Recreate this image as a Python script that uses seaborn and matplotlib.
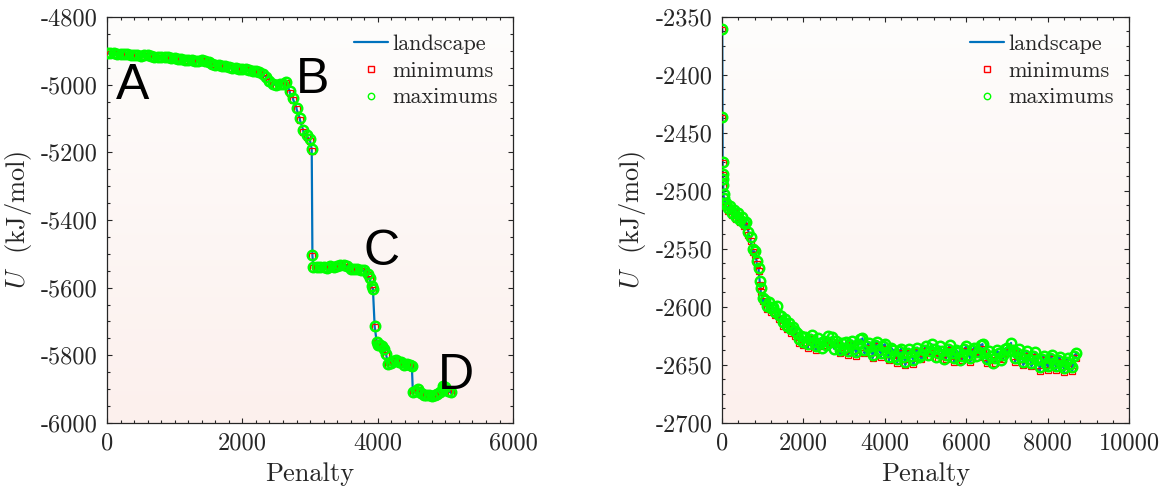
import numpy as np
import matplotlib
matplotlib.use("Agg")
import matplotlib.pyplot as plt
from matplotlib.ticker import MultipleLocator
import seaborn as sns

# ---- Run 1: penalty landscape with four plateaus (A-D) ----
run1_x = [0, 50, 100, 150, 200, 250, 300, 350, 400, 450, 500, 550, 600, 650, 700, 750,
          800, 850, 900, 950, 1000, 1050, 1100, 1150, 1200, 1250, 1300, 1350, 1400, 1450,
          1500, 1550, 1600, 1650, 1700, 1750, 1800, 1850, 1900, 1950, 2000, 2050, 2100,
          2150, 2200, 2250, 2300, 2350, 2400, 2450, 2500, 2550, 2600, 2650, 2700, 2750,
          2800, 2850, 2900, 2950, 3000, 3025,
          3035, 3050, 3100, 3150, 3200, 3250, 3300, 3350, 3400, 3450, 3500, 3550, 3600,
          3650, 3700, 3750, 3800, 3850, 3880, 3910, 3930,
          3955, 3985, 4010, 4040, 4070, 4100, 4125, 4150, 4190, 4230, 4270, 4310, 4350,
          4390, 4430, 4470, 4505,
          4520, 4560, 4600, 4640, 4680, 4720, 4760, 4800, 4840, 4880, 4920, 4960, 5000,
          5040, 5080]
run1_max = [-4906, -4907, -4907, -4909, -4909, -4910, -4908, -4911, -4913, -4912, -4914,
            -4913, -4912, -4915, -4917, -4918, -4917, -4919, -4918, -4920, -4922, -4924,
            -4923, -4926, -4928, -4927, -4929, -4931, -4928, -4930, -4934, -4938, -4941,
            -4943, -4946, -4945, -4948, -4951, -4950, -4953, -4955, -4954, -4958, -4960,
            -4961, -4963, -4968, -4976, -4988, -4997, -5000, -4999, -4997, -4992, -5020,
            -5040, -5068, -5100, -5135, -5150, -5162, -5190,
            -5503, -5538, -5540, -5538, -5540, -5541, -5537, -5539, -5535, -5534, -5532,
            -5536, -5544, -5546, -5545, -5547, -5549, -5560, -5572, -5595, -5603,
            -5712, -5760, -5770, -5768, -5772, -5782, -5795, -5825, -5824, -5818, -5815,
            -5819, -5821, -5830, -5826, -5828, -5831,
            -5908, -5904, -5900, -5910, -5916, -5918, -5917, -5920, -5918, -5915, -5908,
            -5890, -5895, -5905, -5908]
run1_min = [-4908, -4910, -4909, -4911, -4912, -4912, -4911, -4913, -4915, -4915, -4916,
            -4916, -4914, -4917, -4920, -4920, -4920, -4921, -4921, -4922, -4925, -4926,
            -4926, -4928, -4931, -4929, -4932, -4933, -4931, -4932, -4937, -4940, -4944,
            -4945, -4949, -4947, -4951, -4953, -4953, -4955, -4958, -4956, -4961, -4962,
            -4964, -4965, -4971, -4979, -4991, -5000, -5003, -5001, -5000, -4995, -5024,
            -5044, -5072, -5104, -5139, -5154, -5166, -5196,
            -5505, -5541, -5542, -5541, -5542, -5544, -5539, -5542, -5537, -5537, -5534,
            -5539, -5546, -5549, -5547, -5550, -5551, -5563, -5575, -5599, -5607,
            -5715, -5764, -5773, -5771, -5775, -5785, -5798, -5828, -5827, -5821, -5818,
            -5822, -5824, -5833, -5829, -5831, -5834,
            -5911, -5907, -5903, -5913, -5919, -5921, -5920, -5923, -5921, -5918, -5911,
            -5893, -5898, -5908, -5911]

# ---- Run 2: relaxation from a high-energy start ----
run2_max_x = [5, 10, 15, 20, 25, 30, 40, 60, 80, 100, 150, 200, 250, 300, 350, 400, 450,
              500, 550, 600, 650, 700, 750, 800, 850, 900, 925, 950, 1000,
              1050, 1100, 1150, 1200, 1250, 1300, 1350, 1400, 1450, 1500, 1550, 1600,
              1650, 1700, 1750, 1800, 1850, 1900, 1950, 2000,
              2050, 2100, 2150, 2200, 2250, 2300, 2350, 2400, 2450, 2500, 2550, 2600,
              2650, 2700, 2750, 2800, 2850, 2900, 2950, 3000,
              3050, 3100, 3150, 3200, 3250, 3300, 3350, 3400, 3450, 3500, 3550, 3600,
              3650, 3700, 3750, 3800, 3850, 3900, 3950, 4000,
              4050, 4100, 4150, 4200, 4250, 4300, 4350, 4400, 4450, 4500, 4550, 4600,
              4650, 4700, 4750, 4800, 4850, 4900, 4950, 5000,
              5050, 5100, 5150, 5200, 5250, 5300, 5350, 5400, 5450, 5500, 5550, 5600,
              5650, 5700, 5750, 5800, 5850, 5900, 5950, 6000,
              6050, 6100, 6150, 6200, 6250, 6300, 6350, 6400, 6450, 6500, 6550, 6600,
              6650, 6700, 6750, 6800, 6850, 6900, 6950, 7000,
              7050, 7100, 7150, 7200, 7250, 7300, 7350, 7400, 7450, 7500, 7550, 7600,
              7650, 7700, 7750, 7800, 7850, 7900, 7950, 8000,
              8050, 8100, 8150, 8200, 8250, 8300, 8350, 8400, 8450, 8500, 8550, 8600,
              8650, 8700]
run2_max_y = [-2360, -2436, -2475, -2485, -2490, -2495, -2503, -2506, -2511, -2510, -2515,
              -2513, -2519, -2516, -2522, -2519, -2525, -2522, -2528, -2527, -2535, -2540,
              -2550, -2552, -2560, -2566, -2578, -2584, -2592,
              -2594, -2599, -2596, -2601, -2600, -2604, -2599, -2607, -2608, -2613, -2610,
              -2616, -2614, -2619, -2617, -2621, -2622, -2628, -2625, -2630,
              -2626, -2632, -2628, -2624, -2630, -2634, -2627, -2631, -2635, -2629, -2633,
              -2625, -2630, -2626, -2636, -2629, -2633, -2637, -2631, -2635,
              -2630, -2638, -2633, -2629, -2636, -2639, -2632, -2628, -2627, -2637, -2634,
              -2631, -2638, -2641, -2633, -2630, -2637, -2640, -2634, -2632,
              -2639, -2643, -2635, -2637, -2642, -2645, -2638, -2636, -2643, -2647, -2640,
              -2636, -2642, -2646, -2639, -2635, -2643, -2641, -2637, -2634,
              -2641, -2638, -2632, -2636, -2643, -2640, -2634, -2638, -2645, -2641, -2636,
              -2633, -2640, -2644, -2637, -2639, -2646, -2642, -2636, -2634,
              -2641, -2644, -2637, -2635, -2642, -2639, -2633, -2632, -2640, -2645, -2638,
              -2642, -2648, -2644, -2637, -2640, -2646, -2641, -2636, -2635,
              -2638, -2631, -2637, -2644, -2640, -2636, -2643, -2647, -2641, -2638, -2645,
              -2648, -2642, -2639, -2646, -2652, -2645, -2642, -2649, -2651,
              -2644, -2641, -2648, -2651, -2646, -2643, -2650, -2653, -2647, -2644, -2649,
              -2652, -2642, -2640]
run2_min_x = [5, 10, 15, 20, 25, 30, 40, 60, 80, 100, 150, 200, 250, 300, 350, 400, 450,
              500, 550, 600, 650, 700, 750, 800, 850, 900, 925, 950, 1000,
              1100, 1200, 1300, 1400, 1500, 1600, 1700, 1800, 1900, 2000, 2100, 2200,
              2300, 2400, 2500, 2600, 2700, 2800, 2900, 3000, 3100, 3200, 3300, 3400,
              3500, 3600, 3700, 3800, 3900, 4000, 4100, 4200, 4300, 4400, 4500, 4600,
              4700, 4800, 4900, 5000, 5100, 5200, 5300, 5400, 5500, 5600, 5700, 5800,
              5900, 6000, 6100, 6200, 6300, 6400, 6500, 6600, 6700, 6800, 6900, 7000,
              7100, 7200, 7300, 7400, 7500, 7600, 7700, 7800, 7900, 8000, 8100, 8200,
              8300, 8400, 8500, 8600, 8700]
run2_min_y = [-2361, -2437, -2476, -2486, -2491, -2496, -2505, -2509, -2513, -2513, -2517,
              -2516, -2521, -2519, -2524, -2522, -2527, -2525, -2530, -2530, -2538, -2543,
              -2553, -2555, -2563, -2569, -2581, -2587, -2595,
              -2602, -2604, -2607, -2610, -2616, -2619, -2622, -2625, -2631, -2633, -2635,
              -2628, -2637, -2634, -2633, -2629, -2630, -2632, -2640, -2638, -2641, -2633,
              -2642, -2632, -2640, -2635, -2644, -2634, -2643, -2636, -2646, -2641, -2648,
              -2640, -2650, -2640, -2649, -2639, -2645, -2638, -2642, -2640, -2644, -2642,
              -2645, -2637, -2647, -2643, -2646, -2638, -2647, -2639, -2643, -2636, -2648,
              -2646, -2648, -2644, -2645, -2639, -2635, -2647, -2640, -2650, -2642, -2651,
              -2643, -2655, -2646, -2654, -2645, -2654, -2647, -2656, -2648, -2655, -2644]

stage_labels = ["A", "B", "C", "D"]
stage_x = [384, 3030, 4050, 5160]
stage_y = [-5004, -4986, -5495, -5861]

legend_labels = ["landscape", "minimums", "maximums"]

BLUE = "#0072BD"
RED = "#FF0000"
GREEN = "#00FF00"
INK = "#262626"

sns.set_theme(style="ticks")
plt.rcParams.update({
    "font.family": ["cmr10", "DejaVu Sans"],
    "mathtext.fontset": "cm",
    "axes.unicode_minus": False,
    "axes.formatter.use_mathtext": False,
    "axes.edgecolor": INK,
    "axes.linewidth": 0.9,
    "xtick.color": INK,
    "ytick.color": INK,
    "text.color": INK,
    "axes.labelcolor": INK,
})


def landscape_path(max_x, max_y, min_x, min_y):
    # the landscape walks through maxima and minima in order of penalty
    xs = np.concatenate([np.asarray(max_x, float), np.asarray(min_x, float)])
    ys = np.concatenate([np.asarray(max_y, float), np.asarray(min_y, float)])
    order = np.argsort(xs, kind="stable")
    return xs[order], ys[order]


def draw_panel(ax, max_x, max_y, min_x, min_y, xlim, ylim, xmaj, xmin, ymaj, ymin):
    # soft vertical gradient behind the data
    grad = np.linspace(0, 1, 256).reshape(-1, 1)
    cmap = matplotlib.colors.LinearSegmentedColormap.from_list(
        "bg", ["#FEFDFC", "#FCF0ED"])
    ax.imshow(grad, extent=[0, 1, 0, 1], transform=ax.transAxes, aspect="auto",
              cmap=cmap, zorder=0, origin="upper")

    lx, ly = landscape_path(max_x, max_y, min_x, min_y)
    sns.lineplot(x=lx, y=ly, ax=ax, color=BLUE, linewidth=1.6, sort=False,
                 estimator=None, label=legend_labels[0], zorder=2)
    sns.lineplot(x=min_x, y=min_y, ax=ax, color=RED, linestyle="", marker="s",
                 markersize=4.3, markerfacecolor="none", markeredgecolor=RED,
                 markeredgewidth=0.9, sort=False, estimator=None,
                 label=legend_labels[1], zorder=3)
    sns.lineplot(x=max_x, y=max_y, ax=ax, color=GREEN, linestyle="", marker="o",
                 markersize=6.8, markerfacecolor="none", markeredgecolor=GREEN,
                 markeredgewidth=1.8, sort=False, estimator=None,
                 label=legend_labels[2], zorder=4)

    ax.set_xlim(*xlim)
    ax.set_ylim(*ylim)
    ax.xaxis.set_major_locator(MultipleLocator(xmaj))
    ax.xaxis.set_minor_locator(MultipleLocator(xmin))
    ax.yaxis.set_major_locator(MultipleLocator(ymaj))
    ax.yaxis.set_minor_locator(MultipleLocator(ymin))
    ax.tick_params(which="both", direction="in", top=True, right=True,
                   labelsize=17.5, width=0.8, color=INK)
    ax.tick_params(which="major", length=3.5, pad=7)
    ax.tick_params(which="minor", length=2.2)
    ax.set_xlabel("Penalty", fontsize=19, labelpad=5)
    ax.set_ylabel(r"$U$  (kJ/mol)", fontsize=19, labelpad=5)
    for s in ax.spines.values():
        s.set_visible(True)
        s.set_color(INK)

    leg = ax.legend(loc="upper right", bbox_to_anchor=(1.0, 0.995), frameon=False,
                    fontsize=16, handlelength=1.5, handletextpad=0.2,
                    labelspacing=0.32, borderaxespad=0.3)
    for h in leg.legend_handles[1:]:
        h.set_markeredgewidth(1.0)
        h.set_markersize(4.6)
    return leg


fig = plt.figure(figsize=(11.61, 4.88), dpi=100)
ax1 = fig.add_axes([0.0922, 0.1332, 0.3497, 0.8320])
ax2 = fig.add_axes([0.6219, 0.1332, 0.3506, 0.8320])

draw_panel(ax1, run1_x, run1_max, run1_x, run1_min,
           (0, 6000), (-6000, -4800), 2000, 200, 200, 50)
draw_panel(ax2, run2_max_x, run2_max_y, run2_min_x, run2_min_y,
           (0, 10000), (-2700, -2350), 2000, 400, 50, 12.5)

for lab, x, y in zip(stage_labels, stage_x, stage_y):
    ax1.text(x, y, lab, ha="center", va="center", fontsize=36,
             family=["Liberation Sans", "DejaVu Sans"], color="black", zorder=5)

fig.savefig("out.png", dpi=100)
